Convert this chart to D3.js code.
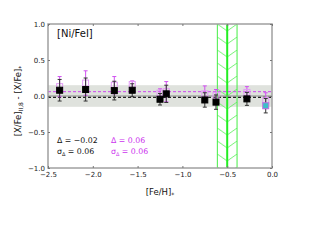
<!DOCTYPE html>
<html>
<head>
<meta charset="utf-8">
<script src="https://cdn.jsdelivr.net/npm/d3@7"></script>
<style>
  body { margin: 0; background: #fff; }
  text { font-family: "DejaVu Sans", sans-serif; }
</style>
</head>
<body>
<div id="vis"></div>
<script>
// [Ni/FeI] offsets vs metallicity

var width = 320;
var height = 240;

// data
var feh      = [-2.37, -2.08, -1.76, -1.56, -1.25, -1.18, -0.75, -0.625, -0.28, -0.07];
var dBlack   = [0.08, 0.09, 0.075, 0.08, -0.045, 0.03, -0.055, -0.085, -0.04, -0.135];
var eBlack   = [0.15, 0.16, 0.13, 0.09, 0.08, 0.12, 0.1, 0.1, 0.09, 0.1];
var dMagenta = [0.13, 0.18, 0.15, 0.16, 0.04, 0.06, 0.03, 0.01, 0.05, -0.065];
var eMagenta = [0.14, 0.17, 0.12, 0.05, 0.06, 0.14, 0.11, 0.08, 0.08, 0.11];
var xTicks = [-2.5, -2.0, -1.5, -1.0, -0.5, 0.0];
var yTicks = [-1.0, -0.5, 0.0, 0.5, 1.0];
var meanBlack = -0.02, sigBlack = 0.06;
var meanMag = 0.06, sigMag = 0.06;
var band = [-0.15, 0.15];
var greenBand = [-0.61, -0.5, -0.39];

var pLeft = 48, pRight = 272, pTop = 24, pBottom = 168;

var x = d3.scaleLinear().domain([-2.5, 0]).range([pLeft, pRight]);
var y = d3.scaleLinear().domain([-1, 1]).range([pBottom, pTop]);

var svg = d3.select("#vis")
        .append("svg")
        .attr("width", width)
        .attr("height", height);

var defs = svg.append("defs");
defs.append("clipPath").attr("id", "plotclip")
      .append("rect")
        .attr("x", pLeft).attr("y", pTop)
        .attr("width", pRight - pLeft).attr("height", pBottom - pTop);

var gw = x(greenBand[2]) - x(greenBand[0]);
var pat = defs.append("pattern")
        .attr("id", "chev")
        .attr("patternUnits", "userSpaceOnUse")
        .attr("x", x(greenBand[0]))
        .attr("y", pTop)
        .attr("width", gw)
        .attr("height", 13);
pat.append("path")
        .attr("d", "M0,0 L" + gw / 2 + ",7 L" + gw + ",0")
        .attr("fill", "none")
        .attr("stroke", "#66ee66")
        .attr("stroke-width", 0.9);

var plot = svg.append("g").attr("clip-path", "url(#plotclip)");

// grey band
plot.append("rect")
        .attr("x", pLeft)
        .attr("y", y(band[1]))
        .attr("width", pRight - pLeft)
        .attr("height", y(band[0]) - y(band[1]))
        .attr("fill", "#dfe2dd");

// green hatched band
plot.append("rect")
        .attr("x", x(greenBand[0]))
        .attr("y", pTop)
        .attr("width", gw)
        .attr("height", pBottom - pTop)
        .attr("fill", "url(#chev)");
[greenBand[0], greenBand[2]].forEach(function(v) {
  plot.append("line")
        .attr("x1", x(v)).attr("x2", x(v))
        .attr("y1", pTop).attr("y2", pBottom)
        .attr("stroke", "#44ee44")
        .attr("stroke-width", 1);
});
plot.append("line")
        .attr("x1", x(greenBand[1])).attr("x2", x(greenBand[1]))
        .attr("y1", pTop).attr("y2", pBottom)
        .attr("stroke", "#22ee22")
        .attr("stroke-width", 2);

// zero line and means
plot.append("line")
        .attr("x1", pLeft).attr("x2", pRight)
        .attr("y1", y(0)).attr("y2", y(0))
        .attr("stroke", "#8a8a8a")
        .attr("stroke-width", 1);
plot.append("line")
        .attr("x1", pLeft).attr("x2", pRight)
        .attr("y1", y(meanBlack)).attr("y2", y(meanBlack))
        .attr("stroke", "#222")
        .attr("stroke-width", 1.2)
        .attr("stroke-dasharray", "3,2");
plot.append("line")
        .attr("x1", pLeft).attr("x2", pRight)
        .attr("y1", y(meanMag)).attr("y2", y(meanMag))
        .attr("stroke", "#cc44ee")
        .attr("stroke-width", 1)
        .attr("stroke-dasharray", "3,2");

// magenta points (open squares)
feh.forEach(function(f, i) {
  var cx = x(f);
  plot.append("line")
        .attr("x1", cx).attr("x2", cx)
        .attr("y1", y(dMagenta[i] + eMagenta[i])).attr("y2", y(dMagenta[i] - eMagenta[i]))
        .attr("stroke", "#d050f0").attr("stroke-width", 1);
  [dMagenta[i] + eMagenta[i], dMagenta[i] - eMagenta[i]].forEach(function(v) {
    plot.append("line")
        .attr("x1", cx - 2).attr("x2", cx + 2)
        .attr("y1", y(v)).attr("y2", y(v))
        .attr("stroke", "#d050f0").attr("stroke-width", 1);
  });
  plot.append("rect")
        .attr("x", cx - 3).attr("y", y(dMagenta[i]) - 3)
        .attr("width", 6).attr("height", 6)
        .attr("fill", "none")
        .attr("stroke", "#e29af5")
        .attr("stroke-width", 1);
});

// black points
feh.forEach(function(f, i) {
  var cx = x(f);
  var last = i == feh.length - 1;
  plot.append("line")
        .attr("x1", cx).attr("x2", cx)
        .attr("y1", y(dBlack[i] + eBlack[i])).attr("y2", y(dBlack[i] - eBlack[i]))
        .attr("stroke", "#333").attr("stroke-width", 1);
  [dBlack[i] + eBlack[i], dBlack[i] - eBlack[i]].forEach(function(v) {
    plot.append("line")
        .attr("x1", cx - 2).attr("x2", cx + 2)
        .attr("y1", y(v)).attr("y2", y(v))
        .attr("stroke", "#333").attr("stroke-width", 1);
  });
  plot.append("rect")
        .attr("x", cx - 3).attr("y", y(dBlack[i]) - 3)
        .attr("width", 6).attr("height", 6)
        .attr("fill", last ? "#3cc0c8" : "#000")
        .attr("stroke", last ? "#c070e0" : "#000")
        .attr("stroke-width", 1);
});

// frame
svg.append("rect")
        .attr("x", pLeft).attr("y", pTop)
        .attr("width", pRight - pLeft).attr("height", pBottom - pTop)
        .attr("fill", "none")
        .attr("stroke", "#a0a0a0")
        .attr("stroke-width", 1.5);

// axes with inward ticks
var xAxis = d3.axisBottom(x).tickValues(xTicks).tickSizeInner(-2).tickSizeOuter(0)
        .tickPadding(4).tickFormat(d3.format(".1f"));
var yAxis = d3.axisLeft(y).tickValues(yTicks).tickSizeInner(-2).tickSizeOuter(0)
        .tickPadding(3).tickFormat(d3.format(".1f"));

var gx = svg.append("g").attr("transform", "translate(0," + pBottom + ")").call(xAxis);
var gy = svg.append("g").attr("transform", "translate(" + pLeft + ",0)").call(yAxis);
svg.append("g").attr("transform", "translate(0," + pTop + ")")
        .call(d3.axisTop(x).tickValues(xTicks).tickSizeInner(-2).tickSizeOuter(0).tickFormat(""));
svg.append("g").attr("transform", "translate(" + pRight + ",0)")
        .call(d3.axisRight(y).tickValues(yTicks).tickSizeInner(-2).tickSizeOuter(0).tickFormat(""));

svg.selectAll(".domain").remove();
svg.selectAll(".tick line").attr("stroke", "#777");
svg.selectAll(".tick text")
        .attr("fill", "#222")
        .style("font-size", "7px")
        .style("font-family", "DejaVu Sans");

// labels
svg.append("text")
        .attr("x", 57).attr("y", 37)
        .attr("fill", "#111")
        .style("font-size", "10px")
        .text("[Ni/FeI]");

svg.append("text")
        .attr("x", 160).attr("y", 195)
        .attr("text-anchor", "middle")
        .attr("fill", "#111")
        .style("font-size", "8.5px")
        .text("[Fe/H]")
      .append("tspan")
        .attr("dy", 2)
        .style("font-size", "6px")
        .text("*");

var ylab = svg.append("text")
        .attr("transform", "translate(21,101) rotate(-90)")
        .attr("text-anchor", "middle")
        .attr("fill", "#111")
        .style("font-size", "8.5px");
ylab.append("tspan").text("[X/Fe]");
ylab.append("tspan").attr("dy", 2).style("font-size", "6px").text("II,8");
ylab.append("tspan").attr("dy", -2).text(" - [X/Fe]");
ylab.append("tspan").attr("dy", 2).style("font-size", "6px").text("*");

function statText(xp, col, mean, sig) {
  var t1 = svg.append("text")
        .attr("x", xp).attr("y", 143)
        .attr("fill", col)
        .style("font-size", "7.8px")
        .text("\u0394 = " + d3.format(".2f")(mean));
  var t2 = svg.append("text")
        .attr("x", xp).attr("y", 153.5)
        .attr("fill", col)
        .style("font-size", "7.8px");
  t2.append("tspan").text("\u03c3");
  t2.append("tspan").attr("dy", 2).style("font-size", "5px").text("\u0394");
  t2.append("tspan").attr("dy", -2).text(" = " + d3.format(".2f")(sig));
}
statText(57, "#111", meanBlack, sigBlack);
statText(111, "#cc33ee", meanMag, sigMag);
</script>
</body>
</html>
